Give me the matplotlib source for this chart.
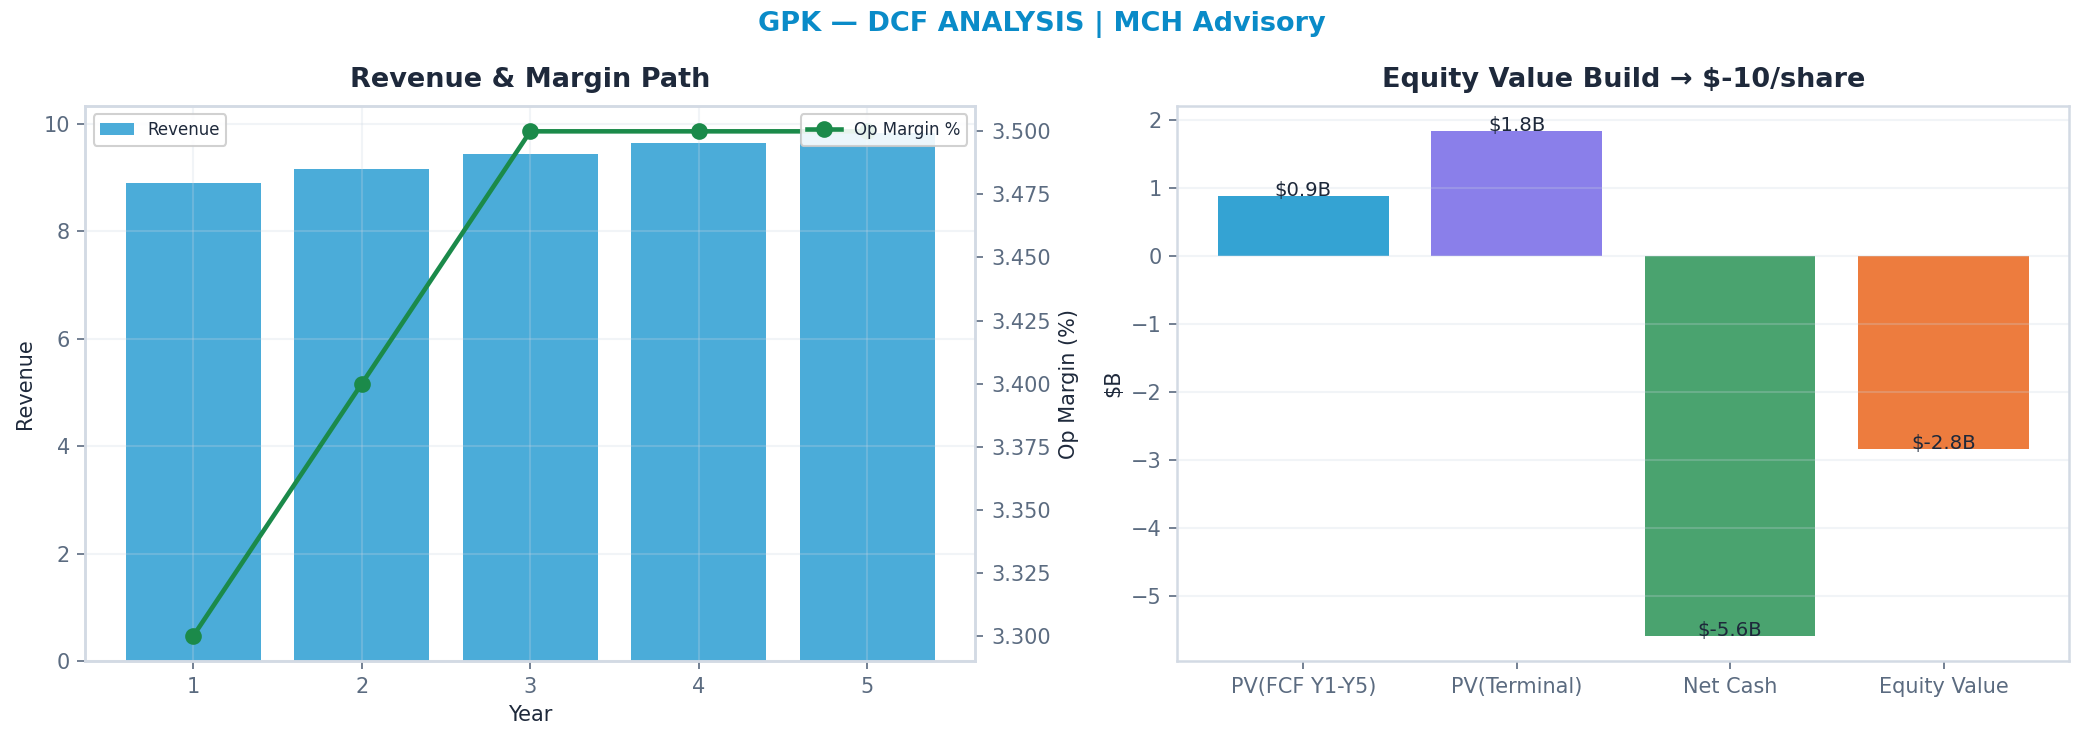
import numpy as np
import matplotlib
matplotlib.use("Agg")
import matplotlib.pyplot as plt

# data
years = [1, 2, 3, 4, 5]
revenue = [8.90, 9.17, 9.44, 9.64, 9.84]
op_margin = [3.30, 3.40, 3.50, 3.50, 3.50]

bridge_labels = ["PV(FCF Y1-Y5)", "PV(Terminal)", "Net Cash", "Equity Value"]
bridge_values = [0.88, 1.83, -5.58, -2.84]
bridge_colors = ["#34A3D3", "#8A7FEA", "#4AA36F", "#ED7C3E"]

TITLE_C = "#1E293B"
TICK_C = "#5B6B80"
SPINE_C = "#D3DAE4"
GRID_C = "#CBD5E1"

plt.rcParams["font.family"] = ["DejaVu Sans"]

fig = plt.figure(figsize=(2084 / 150, 742 / 150), dpi=150)
ax1 = fig.add_axes([0.041, 0.109, 0.427, 0.748])
ax3 = fig.add_axes([0.565, 0.109, 0.428, 0.748])


def style(ax):
    for s in ax.spines.values():
        s.set_color(SPINE_C)
        s.set_linewidth(1.2)
    ax.tick_params(colors=TICK_C, labelsize=10, length=4)


# left: revenue bars + margin line
ax1.bar(years, revenue, width=0.8, color="#4BACD9", label="Revenue")
ax1.set_xlabel("Year", fontsize=10, color=TITLE_C)
ax1.set_ylabel("Revenue", fontsize=10, color=TITLE_C)
ax1.set_title("Revenue & Margin Path", fontsize=13, fontweight="bold",
              color=TITLE_C, pad=9)
ax1.grid(True, color=GRID_C, alpha=0.25, linewidth=1)
style(ax1)
ax1.legend(loc="upper left", fontsize=8, framealpha=0.9, edgecolor="#CCCCCC",
           labelcolor=TITLE_C)

ax2 = ax1.twinx()
ax2.plot(years, op_margin, color="#1B8A4A", lw=2.2, marker="o", ms=7,
         label="Op Margin %")
ax2.set_ylabel("Op Margin (%)", fontsize=10, color=TITLE_C)
ax2.yaxis.set_major_formatter(matplotlib.ticker.FormatStrFormatter("%.3f"))
style(ax2)
ax2.legend(loc="upper right", fontsize=8, framealpha=0.9, edgecolor="#CCCCCC",
           labelcolor=TITLE_C)

# right: equity bridge
x = np.arange(len(bridge_labels))
ax3.bar(x, bridge_values, width=0.8, color=bridge_colors)
for i, v in enumerate(bridge_values):
    ax3.text(i, v, f"${v:.1f}B", ha="center", fontsize=9.5, color=TITLE_C)
ax3.set_xticks(x)
ax3.set_xticklabels(bridge_labels)
ax3.set_ylabel("$B", fontsize=10, color=TITLE_C)
ax3.set_title("Equity Value Build \u2192 $-10/share", fontsize=13,
              fontweight="bold", color=TITLE_C, pad=9)
ax3.grid(True, axis="y", color=GRID_C, alpha=0.25, linewidth=1)
style(ax3)

fig.suptitle("GPK \u2014 DCF ANALYSIS | MCH Advisory", fontsize=13,
             fontweight="bold", color="#0A8BC8", y=0.985)

fig.savefig("out.png", dpi=150)
